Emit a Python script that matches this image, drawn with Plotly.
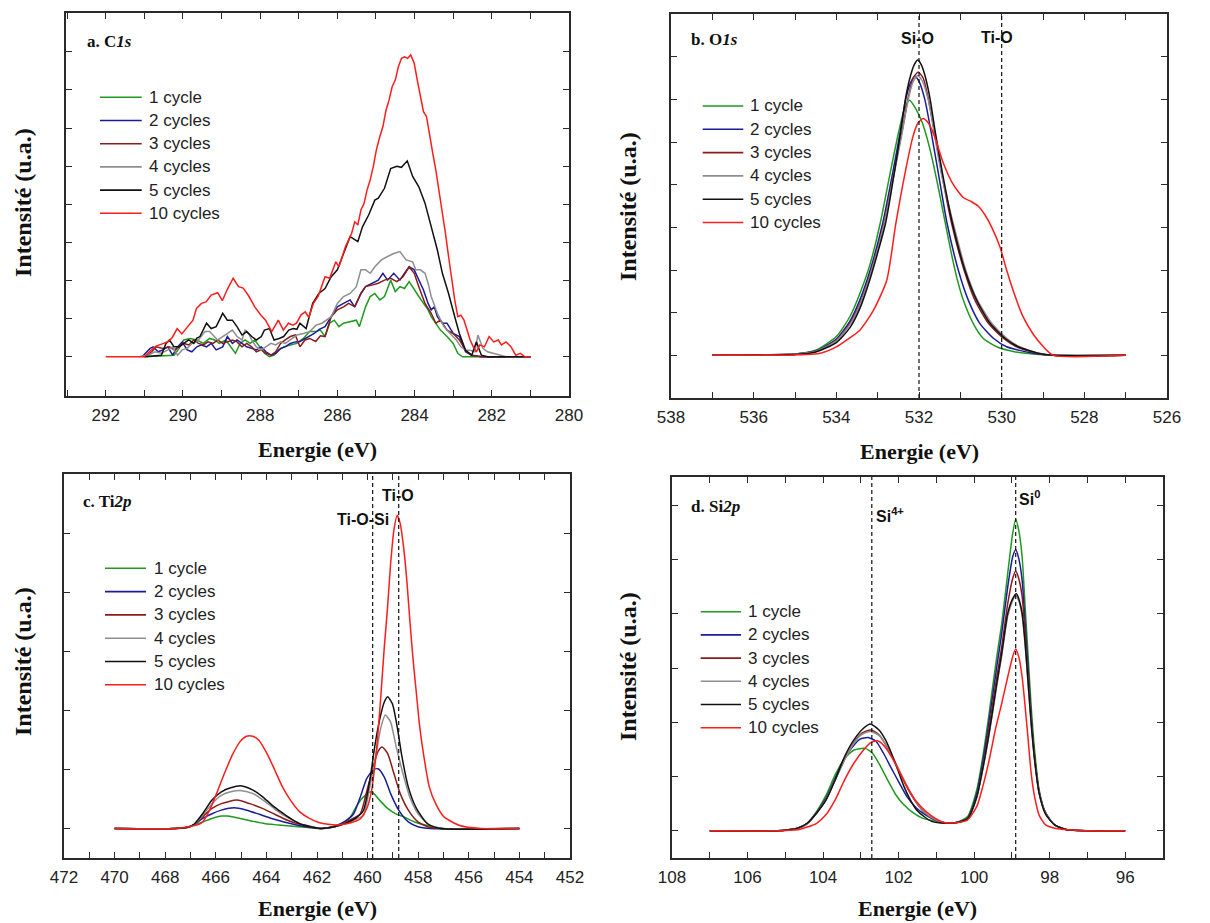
import plotly.graph_objects as go

# The page body adds an 8 px margin; the figure is sized so that it ends at the
# window's bottom edge, and every pixel position below is in screenshot coordinates.
PAGE_W, PAGE_H = 1210, 923
BODY = 8
W, H = PAGE_W - 2 * BODY, PAGE_H - BODY

series_names = ["1 cycle", "2 cycles", "3 cycles", "4 cycles", "5 cycles", "10 cycles"]
series_colors = ["#1f9a1f", "#1b1b9c", "#8b1c1c", "#8e8e8e", "#111111", "#ff1c1c"]

# ---------------- C1s (binding energy eV, intensity a.u.) ----------------
c1s_1 = [(291.0, 0), (290.48, 0.02), (290.23, 0.04), (290.10, 0.22), (289.98, 0.44), (289.81, 0.48),
         (289.64, 0.44), (289.47, 0.35), (289.31, 0.48), (289.18, 0.44), (289.06, 0.35), (288.89, 0.44),
         (288.76, 0.26), (288.64, 0.09), (288.52, 0.35), (288.39, 0.44), (288.26, 0.35), (288.14, 0.44),
         (288.01, 0.26), (287.89, 0.09), (287.76, 0), (287.64, 0.04), (287.51, 0.18), (287.39, 0.26),
         (287.22, 0.31), (287.05, 0.35), (286.88, 0.48), (286.72, 0.66), (286.56, 0.66), (286.44, 0.70),
         (286.32, 0.53), (286.20, 0.88), (286.08, 0.96), (285.96, 0.79), (285.84, 0.88), (285.67, 0.92),
         (285.51, 0.96), (285.43, 0.79), (285.35, 1.05), (285.27, 1.31), (285.15, 1.58), (285.03, 1.66),
         (284.90, 1.49), (284.78, 1.58), (284.62, 2.01), (284.50, 1.71), (284.38, 1.84), (284.26, 1.79),
         (284.14, 1.97), (284.01, 1.75), (283.89, 1.58), (283.77, 1.40), (283.65, 1.23), (283.57, 1.05),
         (283.45, 0.88), (283.33, 0.70), (283.16, 0.53), (283.00, 0.35), (282.88, 0.09), (282.76, 0),
         (281.0, 0)]
c1s_2 = [(291.06, 0), (290.85, 0.22), (290.77, 0.26), (290.64, 0.13), (290.52, 0.18), (290.39, 0.26),
         (290.27, 0.04), (290.14, 0.26), (290.02, 0.39), (289.89, 0.18), (289.77, 0.13), (289.64, 0.26),
         (289.52, 0.31), (289.39, 0.26), (289.27, 0.35), (289.14, 0.18), (288.97, 0.26), (288.85, 0.53),
         (288.72, 0.35), (288.60, 0.44), (288.47, 0.35), (288.35, 0.26), (288.22, 0.22), (288.10, 0.18),
         (287.97, 0.26), (287.85, 0.13), (287.72, 0.04), (287.60, 0.09), (287.47, 0.22), (287.35, 0.26),
         (287.22, 0.35), (287.09, 0.39), (286.97, 0.40), (286.84, 0.48), (286.72, 0.55), (286.60, 0.61),
         (286.47, 0.72), (286.32, 0.79), (286.16, 1.05), (286.00, 1.31), (285.84, 1.40), (285.67, 1.49),
         (285.55, 1.31), (285.39, 1.66), (285.27, 1.84), (285.11, 1.93), (284.94, 2.01), (284.82, 2.19),
         (284.70, 2.01), (284.54, 2.19), (284.38, 2.01), (284.26, 2.19), (284.14, 2.36), (284.01, 2.28),
         (283.89, 2.01), (283.77, 1.75), (283.65, 1.40), (283.57, 1.23), (283.49, 1.31), (283.41, 1.05),
         (283.28, 0.88), (283.16, 0.88), (283.00, 0.61), (282.84, 0.53), (282.68, 0.13), (282.52, 0.04),
         (282.27, 0), (281.0, 0)]
c1s_3 = [(290.98, 0), (290.81, 0.13), (290.69, 0.26), (290.52, 0.22), (290.35, 0.26), (290.23, 0.18),
         (290.10, 0.26), (289.98, 0.35), (289.85, 0.31), (289.72, 0.44), (289.60, 0.35), (289.47, 0.31),
         (289.35, 0.39), (289.22, 0.35), (289.10, 0.44), (288.97, 0.35), (288.85, 0.39), (288.72, 0.44),
         (288.60, 0.39), (288.47, 0.26), (288.35, 0.35), (288.22, 0.26), (288.10, 0.13), (287.97, 0.18),
         (287.85, 0.09), (287.72, 0.04), (287.60, 0.13), (287.47, 0.35), (287.35, 0.44), (287.22, 0.53),
         (287.09, 0.57), (286.97, 0.26), (286.84, 0.44), (286.72, 0.48), (286.56, 0.40), (286.44, 0.55),
         (286.32, 0.53), (286.16, 1.05), (286.00, 1.23), (285.84, 1.31), (285.71, 1.40), (285.55, 1.31),
         (285.39, 1.66), (285.27, 1.84), (285.11, 1.88), (284.94, 1.93), (284.78, 2.01), (284.62, 2.06),
         (284.46, 1.97), (284.30, 2.10), (284.14, 2.36), (284.01, 2.19), (283.89, 1.84), (283.73, 1.40),
         (283.57, 1.14), (283.45, 0.88), (283.33, 0.96), (283.16, 0.70), (283.00, 0.61), (282.84, 0.44),
         (282.68, 0.17), (282.52, 0.04), (282.27, 0), (281.0, 0)]
c1s_4 = [(291.15, 0), (290.90, 0.04), (290.73, 0.13), (290.56, 0.09), (290.39, 0.18), (290.27, 0.26),
         (290.14, 0.04), (290.02, 0.18), (289.89, 0.22), (289.77, 0.35), (289.64, 0.39), (289.52, 0.53),
         (289.43, 0.66), (289.31, 0.66), (289.18, 0.53), (289.10, 0.44), (288.97, 0.53), (288.85, 0.61),
         (288.72, 0.70), (288.60, 0.53), (288.47, 0.44), (288.39, 0.70), (288.30, 0.61), (288.22, 0.44),
         (288.10, 0.26), (287.97, 0.18), (287.85, 0.26), (287.72, 0.35), (287.60, 0.31), (287.47, 0.39),
         (287.35, 0.35), (287.22, 0.44), (287.05, 0.57), (286.88, 0.61), (286.72, 0.66), (286.55, 0.83),
         (286.40, 0.88), (286.16, 1.05), (286.00, 1.40), (285.84, 1.58), (285.67, 1.66), (285.51, 1.84),
         (285.39, 2.28), (285.27, 2.28), (285.15, 2.19), (285.03, 2.36), (284.86, 2.54), (284.70, 2.63),
         (284.54, 2.71), (284.38, 2.76), (284.22, 2.54), (284.05, 2.49), (283.97, 2.28), (283.85, 2.28),
         (283.73, 2.19), (283.65, 1.93), (283.57, 1.58), (283.41, 1.14), (283.24, 0.79), (283.08, 0.61),
         (282.92, 0.44), (282.80, 0.26), (282.68, 0.17), (282.56, 0.17), (282.44, 0.13), (282.36, 0.57),
         (282.23, 0.22), (282.11, 0.13), (281.95, 0.09), (281.79, 0.04), (281.63, 0), (281.0, 0)]
c1s_5 = [(291.0, 0), (290.70, 0.02), (290.56, 0.04), (290.44, 0.35), (290.35, 0.44), (290.23, 0.26),
         (290.10, 0.26), (289.98, 0.35), (289.85, 0.44), (289.72, 0.35), (289.64, 0.49), (289.56, 0.53),
         (289.39, 0.88), (289.27, 0.74), (289.14, 0.79), (288.97, 1.14), (288.85, 0.96), (288.72, 0.96),
         (288.60, 0.79), (288.47, 0.57), (288.35, 0.66), (288.22, 0.53), (288.10, 0.44), (287.97, 0.53),
         (287.89, 0.70), (287.76, 0.74), (287.64, 0.44), (287.51, 0.48), (287.39, 0.53), (287.26, 0.70),
         (287.14, 0.74), (287.05, 0.72), (286.97, 0.88), (286.81, 0.74), (286.64, 1.40), (286.48, 1.66),
         (286.32, 1.79), (286.16, 2.10), (286.00, 2.28), (285.84, 2.71), (285.67, 3.15), (285.47, 3.02),
         (285.35, 3.41), (285.19, 3.72), (285.03, 4.11), (284.94, 4.16), (284.78, 4.42), (284.62, 4.94),
         (284.46, 5.00), (284.34, 4.97), (284.19, 5.14), (284.05, 4.73), (283.89, 4.46), (283.73, 4.03),
         (283.57, 3.41), (283.41, 2.80), (283.28, 2.19), (283.12, 1.66), (282.96, 1.05), (282.84, 0.61),
         (282.68, 0.17), (282.52, 0.04), (282.40, 0.39), (282.27, 0.04), (282.11, 0), (281.0, 0)]
c1s_10 = [(292.0, 0), (291.0, 0), (290.85, 0.15), (290.70, 0.28), (290.50, 0.35), (290.38, 0.40),
          (290.28, 0.50), (290.15, 0.74), (290.03, 0.60), (289.90, 0.77), (289.74, 0.96), (289.65, 1.27),
          (289.52, 1.40), (289.40, 1.44), (289.27, 1.62), (289.10, 1.68), (288.98, 1.47), (288.86, 1.75),
          (288.70, 2.06), (288.56, 1.84), (288.44, 1.80), (288.30, 1.60), (288.14, 1.31), (287.98, 1.09),
          (287.86, 0.96), (287.70, 0.66), (287.53, 0.96), (287.40, 0.70), (287.27, 0.88), (287.15, 0.83),
          (287.06, 0.88), (286.94, 1.10), (286.83, 1.18), (286.74, 1.03), (286.62, 1.40), (286.50, 1.58),
          (286.40, 1.84), (286.32, 2.10), (286.20, 2.06), (286.12, 2.28), (286.04, 2.49), (285.96, 2.36),
          (285.88, 2.63), (285.79, 2.89), (285.71, 3.06), (285.63, 3.24), (285.55, 3.54), (285.47, 3.46),
          (285.39, 3.85), (285.31, 4.02), (285.23, 4.38), (285.15, 4.64), (285.07, 4.99), (284.99, 5.43),
          (284.90, 5.78), (284.82, 6.04), (284.74, 6.47), (284.66, 6.74), (284.58, 7.09), (284.50, 7.26),
          (284.42, 7.61), (284.34, 7.83), (284.26, 7.87), (284.18, 7.83), (284.10, 7.92), (284.01, 7.70),
          (283.93, 7.26), (283.85, 6.83), (283.77, 6.43), (283.69, 6.30), (283.61, 5.78), (283.53, 5.34),
          (283.45, 4.90), (283.37, 4.38), (283.28, 3.85), (283.20, 3.24), (283.12, 2.63), (283.04, 2.01),
          (282.96, 1.49), (282.88, 1.05), (282.80, 1.09), (282.72, 0.96), (282.64, 0.70), (282.56, 0.44),
          (282.48, 0.26), (282.40, 0.13), (282.31, 0.31), (282.19, 0.26), (282.07, 0.53), (281.95, 0.39),
          (281.83, 0.44), (281.75, 0.31), (281.63, 0.39), (281.50, 0.26), (281.38, 0.04), (281.26, 0.09),
          (281.14, 0), (281.0, 0)]

# ---------------- O1s ----------------
o1s_1 = [(537, 0), (535.5, 0.01), (535, 0.03), (534.5, 0.12), (534.0, 0.44), (533.67, 0.91), (533.43, 1.45),
         (533.18, 2.15), (532.94, 3.09), (532.70, 4.26), (532.50, 5.20), (532.36, 5.75), (532.23, 5.98),
         (532.09, 5.80), (531.92, 5.45), (531.75, 4.89), (531.57, 4.11), (531.41, 3.33), (531.25, 2.54),
         (531.09, 1.84), (530.93, 1.30), (530.69, 0.75), (530.45, 0.40), (530.12, 0.20), (529.72, 0.09),
         (529.24, 0.03), (528.75, 0), (527, 0)]
o1s_2 = [(537, 0), (535, 0.03), (534.5, 0.10), (534.0, 0.38), (533.67, 0.80), (533.43, 1.30), (533.18, 2.00),
         (532.88, 3.09), (532.64, 4.26), (532.46, 5.20), (532.32, 6.00), (532.20, 6.40), (532.10, 6.54),
         (532.00, 6.42), (531.86, 6.00), (531.70, 5.20), (531.53, 4.26), (531.32, 3.09), (531.05, 2.00),
         (530.81, 1.30), (530.53, 0.75), (530.20, 0.40), (529.88, 0.20), (529.24, 0.05), (528.75, 0), (527, 0)]
o1s_3 = [(537, 0), (535, 0.03), (534.5, 0.09), (534.0, 0.35), (533.67, 0.75), (533.43, 1.20), (533.18, 1.90),
         (532.85, 3.09), (532.61, 4.26), (532.42, 5.20), (532.27, 6.00), (532.14, 6.50), (532.02, 6.64),
         (531.90, 6.50), (531.77, 6.00), (531.62, 5.20), (531.45, 4.26), (531.21, 3.09), (530.91, 2.00),
         (530.65, 1.30), (530.32, 0.75), (529.96, 0.40), (529.64, 0.20), (529.16, 0.05), (528.75, 0), (527, 0)]
o1s_4 = [(537, 0), (535, 0.03), (534.5, 0.09), (534.0, 0.34), (533.67, 0.72), (533.43, 1.18), (533.18, 1.88),
         (532.84, 3.09), (532.60, 4.26), (532.41, 5.20), (532.26, 6.00), (532.14, 6.42), (532.03, 6.56),
         (531.92, 6.43), (531.78, 6.00), (531.63, 5.20), (531.46, 4.26), (531.17, 3.09), (530.87, 2.00),
         (530.59, 1.30), (530.24, 0.75), (529.88, 0.40), (529.56, 0.20), (529.10, 0.05), (528.75, 0), (527, 0)]
o1s_5 = [(537, 0), (535, 0.02), (534.5, 0.08), (534.0, 0.30), (533.67, 0.65), (533.43, 1.10), (533.18, 1.80),
         (532.81, 3.09), (532.60, 4.26), (532.45, 5.20), (532.33, 6.00), (532.22, 6.50), (532.12, 6.80),
         (532.03, 6.92), (531.94, 6.80), (531.84, 6.50), (531.73, 6.00), (531.60, 5.20), (531.43, 4.26),
         (531.19, 3.09), (530.89, 2.00), (530.61, 1.30), (530.28, 0.75), (529.92, 0.40), (529.60, 0.20),
         (529.12, 0.05), (528.75, 0), (527, 0)]
o1s_10 = [(537, 0), (535, 0.01), (534.39, 0.05), (534.0, 0.20), (533.75, 0.36), (533.43, 0.59), (533.10, 1.06),
          (532.78, 1.76), (532.56, 3.09), (532.34, 4.26), (532.14, 5.15), (532.02, 5.45), (531.90, 5.55),
          (531.78, 5.45), (531.63, 5.15), (531.41, 4.50), (531.17, 4.00), (530.93, 3.70), (530.73, 3.60),
          (530.57, 3.50), (530.41, 3.30), (530.24, 3.00), (530.04, 2.54), (529.88, 2.00), (529.68, 1.40),
          (529.48, 0.90), (529.24, 0.50), (528.99, 0.20), (528.75, 0), (527, 0)]

# ---------------- Ti2p ----------------
ti2p_1 = [(470, 0), (467.6, 0), (467.1, 0.02), (466.84, 0.06), (466.52, 0.11), (466.15, 0.17), (465.78, 0.21),
          (465.53, 0.21), (465.03, 0.17), (464.53, 0.12), (464.04, 0.08), (463.54, 0.06), (463.05, 0.04),
          (462.43, 0.02), (461.82, 0), (461.30, 0.04), (460.95, 0.10), (460.67, 0.20), (460.42, 0.39),
          (460.17, 0.53), (459.85, 0.62), (459.53, 0.48), (459.21, 0.34), (458.90, 0.25), (458.58, 0.20),
          (458.14, 0.11), (457.63, 0.05), (457.0, 0), (454, 0)]
ti2p_2 = [(470, 0), (467.6, 0), (467.1, 0.02), (466.84, 0.07), (466.52, 0.17), (466.15, 0.25), (465.78, 0.31),
          (465.28, 0.35), (464.78, 0.31), (464.28, 0.24), (463.79, 0.17), (463.30, 0.11), (462.80, 0.06),
          (462.30, 0.02), (461.82, 0), (461.30, 0.04), (460.90, 0.12), (460.55, 0.25), (460.29, 0.53),
          (460.04, 0.84), (459.78, 0.99), (459.59, 1.01), (459.34, 0.87), (459.09, 0.59), (458.77, 0.31),
          (458.39, 0.11), (458.01, 0.03), (457.5, 0), (454, 0)]
ti2p_3 = [(470, 0), (467.6, 0), (467.1, 0.02), (466.84, 0.07), (466.52, 0.20), (466.15, 0.34), (465.78, 0.42),
          (465.16, 0.48), (464.66, 0.42), (464.16, 0.34), (463.67, 0.24), (463.17, 0.14), (462.68, 0.07),
          (462.18, 0.02), (461.82, 0), (461.30, 0.03), (460.80, 0.12), (460.29, 0.25), (460.04, 0.62),
          (459.78, 1.04), (459.59, 1.30), (459.43, 1.38), (459.21, 1.27), (458.96, 0.93), (458.71, 0.59),
          (458.39, 0.31), (458.01, 0.11), (457.63, 0.03), (457.1, 0), (454, 0)]
ti2p_4 = [(470, 0), (467.6, 0), (467.1, 0.02), (466.84, 0.07), (466.52, 0.22), (466.15, 0.42), (465.78, 0.56),
          (465.41, 0.62), (464.97, 0.64), (464.53, 0.59), (464.16, 0.49), (463.79, 0.37), (463.42, 0.25),
          (463.05, 0.16), (462.62, 0.07), (462.18, 0.03), (461.82, 0), (461.30, 0.03), (460.80, 0.10),
          (460.45, 0.16), (460.17, 0.22), (459.91, 0.71), (459.66, 1.27), (459.47, 1.72), (459.30, 1.92),
          (459.09, 1.80), (458.90, 1.44), (458.64, 0.99), (458.33, 0.53), (458.01, 0.25), (457.63, 0.08),
          (457.1, 0), (454, 0)]
ti2p_5 = [(470, 0), (467.6, 0), (467.1, 0.02), (466.84, 0.08), (466.52, 0.25), (466.15, 0.48), (465.78, 0.62),
          (465.41, 0.69), (464.97, 0.72), (464.53, 0.65), (464.16, 0.54), (463.79, 0.40), (463.42, 0.28),
          (463.05, 0.17), (462.68, 0.08), (462.25, 0.03), (461.82, 0), (461.30, 0.03), (460.80, 0.10),
          (460.45, 0.18), (460.17, 0.30), (459.91, 0.82), (459.72, 1.38), (459.53, 1.83), (459.34, 2.14),
          (459.21, 2.23), (459.02, 2.11), (458.83, 1.72), (458.64, 1.21), (458.39, 0.70), (458.07, 0.34),
          (457.63, 0.08), (457.12, 0), (454, 0)]
ti2p_10 = [(470, 0), (467.6, 0), (467.09, 0.03), (466.72, 0.06), (466.52, 0.11), (466.28, 0.28), (465.97, 0.59),
           (465.66, 0.93), (465.35, 1.24), (465.04, 1.47), (464.79, 1.56), (464.54, 1.56), (464.29, 1.49),
           (463.98, 1.27), (463.67, 0.99), (463.36, 0.70), (463.05, 0.48), (462.68, 0.28), (462.30, 0.17),
           (461.93, 0.10), (461.56, 0.07), (461.19, 0.06), (460.82, 0.08), (460.50, 0.12), (460.29, 0.16),
           (460.04, 0.33), (459.85, 0.62), (459.72, 1.04), (459.59, 1.61), (459.47, 2.28), (459.34, 3.07),
           (459.21, 3.75), (459.09, 4.48), (458.96, 5.05), (458.83, 5.30), (458.71, 5.16), (458.58, 4.77),
           (458.45, 4.20), (458.33, 3.52), (458.20, 2.85), (458.07, 2.28), (457.94, 1.72), (457.75, 1.15),
           (457.56, 0.70), (457.31, 0.42), (456.99, 0.20), (456.36, 0.05), (455.5, 0), (454, 0)]

# ---------------- Si2p ----------------
si2p_1 = [(107, 0), (105.2, 0), (104.92, 0.02), (104.67, 0.05), (104.42, 0.14), (104.17, 0.36), (103.92, 0.66),
          (103.68, 1.03), (103.43, 1.34), (103.18, 1.49), (102.89, 1.52), (102.69, 1.43), (102.48, 1.19),
          (102.27, 0.91), (102.07, 0.66), (101.86, 0.48), (101.61, 0.33), (101.36, 0.23), (101.11, 0.19),
          (100.78, 0.15), (100.5, 0.15), (100.18, 0.26), (99.93, 0.76), (99.77, 1.37), (99.64, 1.98),
          (99.52, 2.60), (99.40, 3.21), (99.27, 3.82), (99.11, 4.75), (98.98, 5.48), (98.90, 5.74),
          (98.82, 5.54), (98.73, 5.05), (98.65, 4.13), (98.57, 3.21), (98.49, 2.29), (98.40, 1.49),
          (98.28, 0.76), (98.11, 0.33), (97.87, 0.11), (97.54, 0.02), (97.0, 0), (96, 0)]
si2p_2 = [(107, 0), (105.2, 0), (104.92, 0.02), (104.67, 0.05), (104.42, 0.14), (104.17, 0.34), (103.92, 0.61),
          (103.68, 0.97), (103.43, 1.34), (103.18, 1.58), (103.02, 1.69), (102.81, 1.72), (102.60, 1.65),
          (102.40, 1.43), (102.19, 1.15), (101.98, 0.88), (101.78, 0.63), (101.53, 0.42), (101.28, 0.29),
          (101.03, 0.20), (100.78, 0.15), (100.5, 0.15), (100.18, 0.23), (99.93, 0.69), (99.77, 1.28),
          (99.64, 1.86), (99.52, 2.44), (99.40, 3.03), (99.27, 3.64), (99.11, 4.50), (98.98, 5.05),
          (98.90, 5.18), (98.82, 5.02), (98.73, 4.62), (98.65, 3.82), (98.57, 2.97), (98.49, 2.11),
          (98.40, 1.37), (98.28, 0.72), (98.11, 0.33), (97.87, 0.11), (97.54, 0.02), (97.0, 0), (96, 0)]
si2p_3 = [(107, 0), (105.2, 0), (104.92, 0.02), (104.67, 0.05), (104.42, 0.13), (104.17, 0.33), (103.92, 0.58),
          (103.68, 0.94), (103.43, 1.31), (103.18, 1.63), (102.97, 1.80), (102.73, 1.86), (102.52, 1.77),
          (102.31, 1.55), (102.11, 1.28), (101.90, 0.97), (101.69, 0.69), (101.49, 0.48), (101.28, 0.31),
          (101.03, 0.21), (100.78, 0.15), (100.5, 0.15), (100.18, 0.22), (99.93, 0.63), (99.77, 1.19),
          (99.64, 1.74), (99.52, 2.29), (99.40, 2.84), (99.27, 3.39), (99.11, 4.19), (98.98, 4.65),
          (98.90, 4.79), (98.82, 4.65), (98.73, 4.32), (98.65, 3.64), (98.57, 2.84), (98.49, 2.04),
          (98.40, 1.37), (98.28, 0.72), (98.11, 0.33), (97.87, 0.11), (97.54, 0.02), (97.0, 0), (96, 0)]
si2p_4 = [(107, 0), (105.2, 0), (104.92, 0.02), (104.67, 0.05), (104.42, 0.13), (104.17, 0.33), (103.92, 0.58),
          (103.68, 0.94), (103.43, 1.31), (103.18, 1.62), (102.97, 1.78), (102.76, 1.83), (102.52, 1.76),
          (102.31, 1.56), (102.11, 1.30), (101.90, 1.00), (101.69, 0.71), (101.49, 0.49), (101.28, 0.32),
          (101.03, 0.21), (100.78, 0.15), (100.5, 0.15), (100.18, 0.22), (99.93, 0.62), (99.77, 1.14),
          (99.64, 1.63), (99.52, 2.14), (99.40, 2.68), (99.27, 3.23), (99.11, 3.96), (98.98, 4.24),
          (98.90, 4.34), (98.82, 4.24), (98.73, 3.97), (98.65, 3.42), (98.57, 2.70), (98.49, 1.97),
          (98.40, 1.31), (98.28, 0.70), (98.11, 0.32), (97.87, 0.11), (97.54, 0.02), (97.0, 0), (96, 0)]
si2p_5 = [(107, 0), (105.2, 0), (104.92, 0.02), (104.67, 0.05), (104.42, 0.14), (104.17, 0.33), (103.92, 0.57),
          (103.68, 0.94), (103.43, 1.37), (103.18, 1.68), (102.93, 1.89), (102.75, 1.97), (102.52, 1.86),
          (102.35, 1.68), (102.19, 1.43), (102.02, 1.12), (101.86, 0.82), (101.69, 0.57), (101.53, 0.39),
          (101.32, 0.26), (101.11, 0.17), (100.78, 0.14), (100.5, 0.15), (100.18, 0.22), (99.93, 0.63),
          (99.77, 1.15), (99.64, 1.65), (99.52, 2.17), (99.40, 2.72), (99.27, 3.27), (99.11, 4.01),
          (98.98, 4.28), (98.88, 4.37), (98.82, 4.28), (98.73, 4.01), (98.65, 3.46), (98.57, 2.72),
          (98.49, 1.98), (98.40, 1.31), (98.28, 0.69), (98.11, 0.31), (97.87, 0.11), (97.54, 0.02),
          (97.0, 0), (96, 0)]
si2p_10 = [(107, 0), (105.2, 0), (104.92, 0.01), (104.67, 0.02), (104.42, 0.07), (104.17, 0.14), (103.92, 0.30),
           (103.68, 0.57), (103.43, 0.94), (103.18, 1.25), (102.93, 1.49), (102.73, 1.63), (102.56, 1.66),
           (102.40, 1.58), (102.19, 1.37), (101.98, 1.09), (101.78, 0.82), (101.53, 0.54), (101.28, 0.36),
           (101.03, 0.23), (100.78, 0.15), (100.5, 0.15), (100.18, 0.20), (99.93, 0.45), (99.77, 0.82),
           (99.60, 1.31), (99.44, 1.86), (99.27, 2.35), (99.11, 2.84), (98.98, 3.21), (98.90, 3.35),
           (98.82, 3.21), (98.73, 2.84), (98.65, 2.29), (98.57, 1.68), (98.49, 1.06), (98.40, 0.63),
           (98.28, 0.29), (98.11, 0.11), (97.87, 0.05), (97.5, 0.02), (97.0, 0), (96, 0)]

# ---------------- panel settings ----------------
panel_titles = ["a. C<i>1s</i>", "b. O<i>1s</i>", "c. Ti<i>2p</i>", "d. Si<i>2p</i>"]
panel_series = [
    [c1s_1, c1s_2, c1s_3, c1s_4, c1s_5, c1s_10],
    [o1s_1, o1s_2, o1s_3, o1s_4, o1s_5, o1s_10],
    [ti2p_1, ti2p_2, ti2p_3, ti2p_4, ti2p_5, ti2p_10],
    [si2p_1, si2p_2, si2p_3, si2p_4, si2p_5, si2p_10],
]
x_ranges = [[293.03, 280.0], [538, 526], [472, 452], [108, 95]]
y_ranges = [[-1.03, 9.02], [-1.0, 8.0], [-0.5, 6.0], [-0.5, 6.52]]
y_tickmax = [8, 7, 5, 6]
line_shapes = ["linear", "spline", "spline", "spline"]

# frames in screenshot pixels: (left, right, top, bottom)
frames = [(66, 569, 13, 396), (671, 1167, 14, 398), (64, 570, 474, 858), (672, 1163, 477, 858)]

ref_lines = [[], [532.0, 530.0], [459.8, 458.77], [102.71, 98.9]]
ref_labels = [
    [],
    [("Si-O", 917.7, 39), ("Ti-O", 997.3, 37)],
    [("Ti-O", 398.3, 495), ("Ti-O-Si", 362.5, 519.5)],
    [("Si<sup>4+</sup>", 889.5, 515), ("Si<sup>0</sup>", 1029.5, 498)],
]
legend_pos = [  # line x0, x1, text x, first row y, row step
    (100, 141.7, 147.3, 97.3, 23.2),
    (702.7, 743.3, 748.3, 106.0, 23.3),
    (105, 146, 151.7, 568.3, 23.3),
    (700.7, 741, 746, 611.7, 23.2),
]
title_pos = [(85, 41.7), (689.3, 40), (80.7, 501.7), (689.3, 506.7)]
ytitle_pos = [(23, 203), (628, 207), (23, 662), (628, 667)]
xtitle_pos = [(317.5, 449), (919, 452), (317, 908), (917.5, 908)]

SERIF = "Liberation Serif"
SANS = "Liberation Sans"


def px(x):
    return (x - BODY) / W


def py(y):
    return 1 - (y - BODY) / H


fig = go.Figure()
shapes = []
annotations = []
layout_axes = {}

for p in range(4):
    sfx = "" if p == 0 else str(p + 1)
    xa, ya = "x" + sfx, "y" + sfx
    l, r, t, b = frames[p]
    for k, data in enumerate(panel_series[p]):
        fig.add_trace(go.Scatter(
            x=[d[0] for d in data], y=[d[1] for d in data],
            mode="lines", xaxis=xa, yaxis=ya, showlegend=False,
            line=dict(color=series_colors[k], width=1.5, shape=line_shapes[p], smoothing=0.6),
            name=series_names[k], hoverinfo="skip"))

    common = dict(showline=True, linecolor="#2a2a2a", linewidth=1.6, mirror="ticks",
                  ticks="inside", ticklen=6, tickwidth=1.3, tickcolor="#2a2a2a",
                  showgrid=False, zeroline=False, fixedrange=True, automargin=False)
    layout_axes["xaxis" + sfx] = dict(
        common, domain=[px(l), px(r)], anchor=ya, range=x_ranges[p], autorange=False,
        tick0=0, dtick=2, tickfont=dict(family=SANS, size=17, color="#222"),
        ticklabelstandoff=3,
        minor=dict(dtick=1, ticks="inside", ticklen=6, tickwidth=1.3, tickcolor="#2a2a2a"))
    layout_axes["yaxis" + sfx] = dict(
        common, domain=[py(b), py(t)], anchor=xa, range=y_ranges[p], autorange=False,
        tickvals=list(range(0, y_tickmax[p] + 1)), showticklabels=False)

    for xv in ref_lines[p]:
        shapes.append(dict(type="line", xref=xa, yref=ya + " domain", x0=xv, x1=xv, y0=0, y1=1,
                           line=dict(color="#111", width=1.2, dash="4px,3px"), layer="above"))
    for txt, tx, ty in ref_labels[p]:
        annotations.append(dict(text="<b>" + txt + "</b>", xref="paper", yref="paper",
                                x=px(tx), y=py(ty), xanchor="center", yanchor="middle", showarrow=False,
                                font=dict(family=SANS, size=16, color="#111")))

    x0, x1, tx, y0, dy = legend_pos[p]
    for k, name in enumerate(series_names):
        yy = y0 + dy * k
        shapes.append(dict(type="line", xref="paper", yref="paper", x0=px(x0), x1=px(x1),
                           y0=py(yy), y1=py(yy), line=dict(color=series_colors[k], width=1.6)))
        annotations.append(dict(text=name, xref="paper", yref="paper", x=px(tx), y=py(yy),
                                xanchor="left", yanchor="middle", showarrow=False,
                                font=dict(family=SANS, size=17, color="#222")))

    tx0, ty0 = title_pos[p]
    annotations.append(dict(text="<b>" + panel_titles[p] + "</b>", xref="paper", yref="paper",
                            x=px(tx0), y=py(ty0), xanchor="left", yanchor="middle", showarrow=False,
                            font=dict(family=SERIF, size=17, color="#111")))
    yx, yy = ytitle_pos[p]
    annotations.append(dict(text="<b>Intensité (u.a.)</b>", xref="paper", yref="paper",
                            x=px(yx), y=py(yy), xanchor="center", yanchor="middle", textangle=-90,
                            showarrow=False, font=dict(family=SERIF, size=24, color="#111")))
    xx, xy = xtitle_pos[p]
    annotations.append(dict(text="<b>Energie (eV)</b>", xref="paper", yref="paper",
                            x=px(xx), y=py(xy), xanchor="center", yanchor="middle",
                            showarrow=False, font=dict(family=SERIF, size=22, color="#111")))

fig.update_layout(
    width=W, height=H, margin=dict(l=0, r=0, t=0, b=0, pad=0, autoexpand=False),
    paper_bgcolor="white", plot_bgcolor="white",
    shapes=shapes, annotations=annotations, showlegend=False,
    **layout_axes)

fig.write_html("out.html")
